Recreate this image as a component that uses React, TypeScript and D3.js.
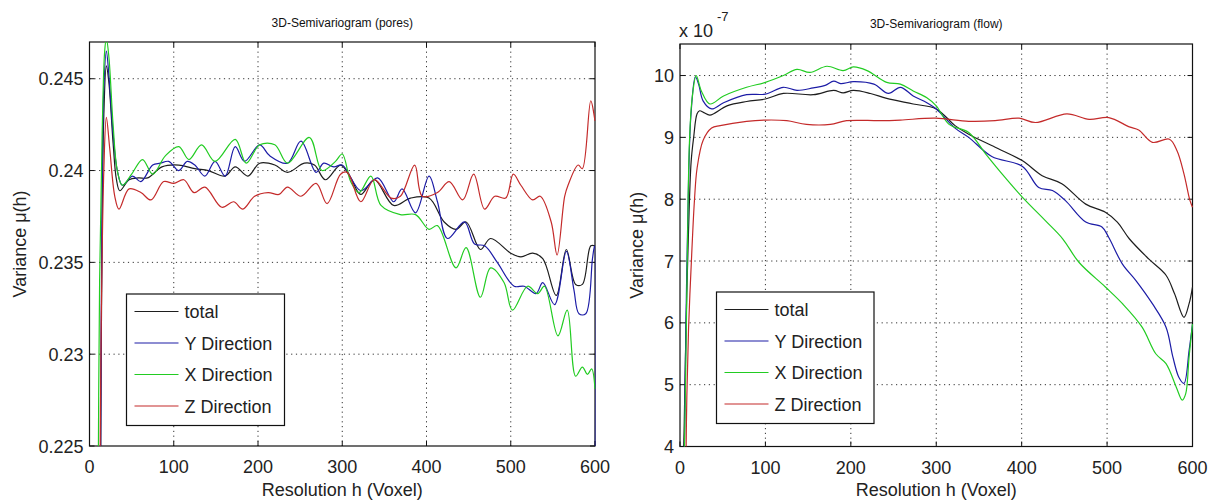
import React from "react";
import * as d3 from "d3";

type P = [number, number];

// ---------- Data: 3D-Semivariogram (pores) ----------
const xTicks = [0, 100, 200, 300, 400, 500, 600];
const poresYTicks = [0.225, 0.23, 0.235, 0.24, 0.245];
const poresYTickLabels = ["0.225", "0.23", "0.235", "0.24", "0.245"];

const poresTotal: P[] = [
  [13, 0.222], [15, 0.237], [17, 0.243], [20, 0.2457], [23, 0.2448], [28, 0.2415], [32, 0.2395], [36, 0.2389],
  [47, 0.2395], [58, 0.2396], [69, 0.2396], [86, 0.2402], [106, 0.2403], [125, 0.2401], [141, 0.24], [161, 0.2397],
  [173, 0.2402], [188, 0.2397], [202, 0.2404], [220, 0.2403], [235, 0.2399], [255, 0.2404], [267, 0.2403], [280, 0.2395],
  [298, 0.2403], [310, 0.2396], [322, 0.2387], [338, 0.2395], [361, 0.2381], [381, 0.2385], [403, 0.2385], [421, 0.2372],
  [435, 0.2368], [447, 0.2372], [464, 0.2357], [476, 0.2363], [500, 0.2355], [512, 0.2353], [526, 0.2355], [538, 0.2352],
  [554, 0.2332], [566, 0.2357], [577, 0.2338], [585, 0.2338], [595, 0.2359], [600, 0.2359],
];
const poresY: P[] = [
  [13, 0.2225], [15, 0.239], [17, 0.2445], [20, 0.2465], [23, 0.2452], [28, 0.242], [33, 0.24], [39, 0.2392],
  [51, 0.2397], [61, 0.2394], [75, 0.2403], [84, 0.2404], [94, 0.2405], [106, 0.24], [116, 0.2405], [125, 0.2403],
  [137, 0.2397], [149, 0.2405], [161, 0.2397], [173, 0.2413], [184, 0.2405], [202, 0.2414], [214, 0.2408], [235, 0.2404],
  [251, 0.2416], [269, 0.2399], [278, 0.2404], [290, 0.2402], [300, 0.2403], [322, 0.2389], [342, 0.2396], [361, 0.2383],
  [371, 0.239], [387, 0.2377], [403, 0.2397], [413, 0.2383], [425, 0.2363], [445, 0.2372], [457, 0.236], [469, 0.2359],
  [484, 0.235], [504, 0.2337], [516, 0.2337], [530, 0.2333], [538, 0.2339], [552, 0.2327], [566, 0.2356], [575, 0.2335],
  [581, 0.2322], [589, 0.2322], [597, 0.2352], [599.5, 0.2359], [599.5, 0.22],
];
const poresX: P[] = [
  [10, 0.22], [12, 0.234], [15, 0.242], [18, 0.2465], [20, 0.2472], [23, 0.2462], [28, 0.2425], [33, 0.24], [39, 0.2392],
  [50, 0.2398], [63, 0.2406], [75, 0.2398], [90, 0.2408], [106, 0.2413], [118, 0.2406], [133, 0.2414], [149, 0.2405],
  [173, 0.2417], [186, 0.2404], [202, 0.2414], [220, 0.2414], [235, 0.2404], [261, 0.2418], [276, 0.24], [292, 0.2405],
  [300, 0.2409], [310, 0.2394], [320, 0.2388], [334, 0.2397], [346, 0.2381], [369, 0.2376], [387, 0.2376], [403, 0.2368],
  [413, 0.237], [435, 0.2347], [447, 0.2358], [464, 0.2331], [476, 0.2347], [492, 0.2339], [502, 0.2324], [520, 0.2337],
  [532, 0.2333], [540, 0.2337], [556, 0.231], [567, 0.2324], [577, 0.2288], [585, 0.2293], [591, 0.2289], [596, 0.2292],
  [600, 0.2281],
];
const poresZ: P[] = [
  [12, 0.22], [14, 0.232], [17, 0.24], [20, 0.2429], [24, 0.2412], [30, 0.2386], [35, 0.2379], [47, 0.239], [61, 0.2388],
  [73, 0.2384], [88, 0.2394], [100, 0.2393], [112, 0.2395], [124, 0.2388], [137, 0.2391], [157, 0.238], [171, 0.2383],
  [182, 0.2379], [196, 0.2386], [212, 0.2388], [225, 0.2387], [235, 0.2391], [251, 0.2386], [269, 0.2393], [282, 0.2382],
  [298, 0.2398], [306, 0.2399], [322, 0.2383], [338, 0.2395], [358, 0.2385], [369, 0.2386], [386, 0.2403], [395, 0.2386],
  [413, 0.2388], [427, 0.2394], [443, 0.2384], [456, 0.2398], [469, 0.2379], [481, 0.2386], [494, 0.2385], [503, 0.2398],
  [512, 0.2392], [526, 0.2384], [535, 0.2386], [548, 0.2372], [555, 0.2354], [564, 0.2386], [568, 0.2392], [580, 0.2403],
  [585, 0.2401], [595, 0.2438], [600, 0.2427],
];

// ---------- Data: 3D-Semivariogram (flow), values in units of 1e-7 ----------
const flowYTicks = [4, 5, 6, 7, 8, 9, 10];
const flowYTickLabels = ["4", "5", "6", "7", "8", "9", "10"];

const flowTotal: P[] = [
  [4, 3.8], [5, 4.4], [7, 5.9], [10, 7.5], [13, 8.6], [16, 9.0], [20, 9.38], [23, 9.43], [28, 9.4], [35, 9.36],
  [55, 9.51], [78, 9.58], [100, 9.62], [121, 9.71], [156, 9.69], [180, 9.76], [191, 9.72], [203, 9.76], [223, 9.71],
  [242, 9.63], [273, 9.54], [300, 9.46], [322, 9.19], [338, 9.05], [369, 8.84], [401, 8.62], [424, 8.38], [447, 8.25],
  [475, 7.92], [498, 7.79], [512, 7.63], [526, 7.36], [549, 7.03], [569, 6.77], [579, 6.47], [590, 6.09], [596, 6.31],
  [600, 6.58],
];
const flowY: P[] = [
  [5, 3.8], [7, 6.0], [10, 8.3], [13, 9.4], [18, 9.98], [22, 9.85], [27, 9.59], [37, 9.46], [51, 9.56], [78, 9.69],
  [100, 9.7], [121, 9.81], [137, 9.76], [156, 9.8], [170, 9.84], [180, 9.91], [188, 9.87], [203, 9.9], [227, 9.86],
  [244, 9.71], [258, 9.81], [273, 9.67], [289, 9.56], [300, 9.46], [322, 9.15], [338, 9.0], [365, 8.69], [401, 8.53],
  [420, 8.19], [436, 8.14], [451, 7.98], [475, 7.63], [494, 7.55], [502, 7.38], [518, 6.95], [534, 6.68], [553, 6.31],
  [569, 5.93], [577, 5.45], [584, 5.12], [590, 5.02], [596, 5.55], [600, 5.98],
];
const flowX: P[] = [
  [5, 3.8], [7, 5.5], [9, 7.5], [11, 8.9], [14, 9.6], [19, 10.0], [25, 9.75], [35, 9.54], [51, 9.67], [78, 9.81],
  [100, 9.89], [121, 10.0], [137, 10.1], [152, 10.05], [172, 10.15], [191, 10.08], [203, 10.14], [219, 10.08],
  [242, 9.89], [258, 9.86], [273, 9.75], [289, 9.64], [300, 9.51], [315, 9.21], [338, 9.08], [358, 8.73], [377, 8.41],
  [401, 8.03], [428, 7.65], [448, 7.36], [467, 6.98], [498, 6.58], [518, 6.31], [541, 5.93], [557, 5.5], [569, 5.34],
  [581, 4.96], [588, 4.75], [592, 4.85], [596, 5.45], [600, 5.98],
];
const flowZ: P[] = [
  [7, 3.8], [8, 4.8], [10, 5.9], [14, 7.2], [17, 8.0], [20, 8.5], [27, 8.95], [37, 9.15], [47, 9.19], [78, 9.26],
  [100, 9.28], [125, 9.27], [148, 9.21], [176, 9.21], [195, 9.27], [234, 9.27], [258, 9.28], [299, 9.31], [338, 9.26],
  [369, 9.27], [397, 9.31], [416, 9.24], [453, 9.38], [479, 9.29], [502, 9.32], [526, 9.17], [537, 9.12], [553, 8.92],
  [573, 8.97], [582, 8.78], [590, 8.41], [597, 7.98], [600, 7.87],
];

const legendLabels = ["total", "Y Direction", "X Direction", "Z Direction"];
const seriesColors = ["#1e1e1e", "#1c1ca6", "#22cc22", "#c42a2a"];

const FONT = "'Liberation Sans', Arial, Helvetica, sans-serif";

interface PanelProps {
  id: string;
  x0: number; x1: number; y0: number; y1: number;
  yDomain: [number, number];
  yTicks: number[];
  yTickLabels: string[];
  series: P[][];
  title: string;
  titleY: number;
  yLabelX: number;
  legend: { x: number; y: number; w: number; h: number };
  exponent?: boolean;
}

function Panel(p: PanelProps) {
  const xs = d3.scaleLinear().domain([0, 600]).range([p.x0, p.x1]);
  const ys = d3.scaleLinear().domain(p.yDomain).range([p.y1, p.y0]);
  const line = d3
    .line<P>()
    .x((d) => xs(d[0]))
    .y((d) => ys(d[1]))
    .curve(d3.curveCatmullRom.alpha(0.5));
  const tl = 5;
  const cx = (p.x0 + p.x1) / 2;
  const cy = (p.y0 + p.y1) / 2;
  return (
    <g>
      <defs>
        <clipPath id={p.id}>
          <rect x={p.x0} y={p.y0} width={p.x1 - p.x0 + 0.5} height={p.y1 - p.y0} />
        </clipPath>
      </defs>
      {/* grid */}
      {xTicks.slice(1, -1).map((t) => (
        <line key={"gx" + t} x1={xs(t)} x2={xs(t)} y1={p.y0} y2={p.y1} stroke="#333" strokeWidth={1} strokeDasharray="1.2,3.6" />
      ))}
      {p.yTicks.filter((t) => ys(t) > p.y0 + 1 && ys(t) < p.y1 - 1).map((t) => (
        <line key={"gy" + t} x1={p.x0} x2={p.x1} y1={ys(t)} y2={ys(t)} stroke="#333" strokeWidth={1} strokeDasharray="1.2,3.6" />
      ))}
      {/* box and ticks */}
      <rect x={p.x0} y={p.y0} width={p.x1 - p.x0} height={p.y1 - p.y0} fill="none" stroke="#111" strokeWidth={1.2} />
      {xTicks.map((t) => (
        <g key={"tx" + t}>
          <line x1={xs(t)} x2={xs(t)} y1={p.y1} y2={p.y1 - tl} stroke="#111" />
          <line x1={xs(t)} x2={xs(t)} y1={p.y0} y2={p.y0 + tl} stroke="#111" />
          <text x={xs(t)} y={p.y1 + 27} textAnchor="middle" fontSize={18} fill="#222" fontFamily={FONT}>
            {t}
          </text>
        </g>
      ))}
      {p.yTicks.map((t, i) => (
        <g key={"ty" + t}>
          <line x1={p.x0} x2={p.x0 + tl} y1={ys(t)} y2={ys(t)} stroke="#111" />
          <line x1={p.x1} x2={p.x1 - tl} y1={ys(t)} y2={ys(t)} stroke="#111" />
          <text x={p.x0 - 6} y={ys(t) + 6.5} textAnchor="end" fontSize={18} fill="#222" fontFamily={FONT}>
            {p.yTickLabels[i]}
          </text>
        </g>
      ))}
      {/* series */}
      <g clipPath={`url(#${p.id})`}>
        {p.series.map((s, i) => (
          <path key={i} d={line(s) || ""} fill="none" stroke={seriesColors[i]} strokeWidth={1.2} />
        ))}
      </g>
      {/* titles and labels */}
      <text x={cx} y={p.titleY} textAnchor="middle" fontSize={12} fill="#111" fontFamily={FONT}>
        {p.title}
      </text>
      <text x={cx} y={496} textAnchor="middle" fontSize={18} fill="#222" fontFamily={FONT}>
        Resolution h (Voxel)
      </text>
      <text
        transform={`translate(${p.yLabelX},${cy}) rotate(-90)`}
        textAnchor="middle"
        fontSize={18}
        fill="#222"
        fontFamily={FONT}
      >
        Variance μ(h)
      </text>
      {p.exponent && (
        <g fontFamily={FONT} fill="#222">
          <text x={p.x0 - 1} y={36.5} fontSize={18}>x 10</text>
          <text x={p.x0 + 37} y={21} fontSize={13}>-7</text>
        </g>
      )}
      {/* legend */}
      <g>
        <rect x={p.legend.x} y={p.legend.y} width={p.legend.w} height={p.legend.h} fill="#fff" stroke="#111" strokeWidth={1.2} />
        {legendLabels.map((lab, i) => {
          const ry = p.legend.y + 17.5 + i * 31.5;
          return (
            <g key={lab}>
              <line x1={p.legend.x + 8} x2={p.legend.x + 52} y1={ry} y2={ry} stroke={seriesColors[i]} strokeWidth={1.2} />
              <text x={p.legend.x + 58} y={ry + 6.5} fontSize={18} fill="#222" fontFamily={FONT}>
                {lab}
              </text>
            </g>
          );
        })}
      </g>
    </g>
  );
}

export default function App() {
  return (
    <svg
      width={1214}
      height={502}
      viewBox="0 0 1214 502"
      style={{ position: "absolute", left: 0, top: 0, background: "#fff" }}
    >
      <rect x={0} y={0} width={1214} height={502} fill="#fff" />
      <Panel
        id="clipPores"
        x0={89.5}
        x1={595}
        y0={42}
        y1={446}
        yDomain={[0.225, 0.247]}
        yTicks={poresYTicks}
        yTickLabels={poresYTickLabels}
        series={[poresTotal, poresY, poresX, poresZ]}
        title="3D-Semivariogram (pores)"
        titleY={26.5}
        yLabelX={26}
        legend={{ x: 126.5, y: 294, w: 158, h: 131.5 }}
      />
      <Panel
        id="clipFlow"
        x0={680}
        x1={1192.5}
        y0={44}
        y1={446.5}
        yDomain={[4, 10.51]}
        yTicks={flowYTicks}
        yTickLabels={flowYTickLabels}
        series={[flowTotal, flowY, flowX, flowZ]}
        title="3D-Semivariogram (flow)"
        titleY={28}
        yLabelX={643}
        legend={{ x: 716.5, y: 292, w: 157.5, h: 131.5 }}
        exponent
      />
    </svg>
  );
}
